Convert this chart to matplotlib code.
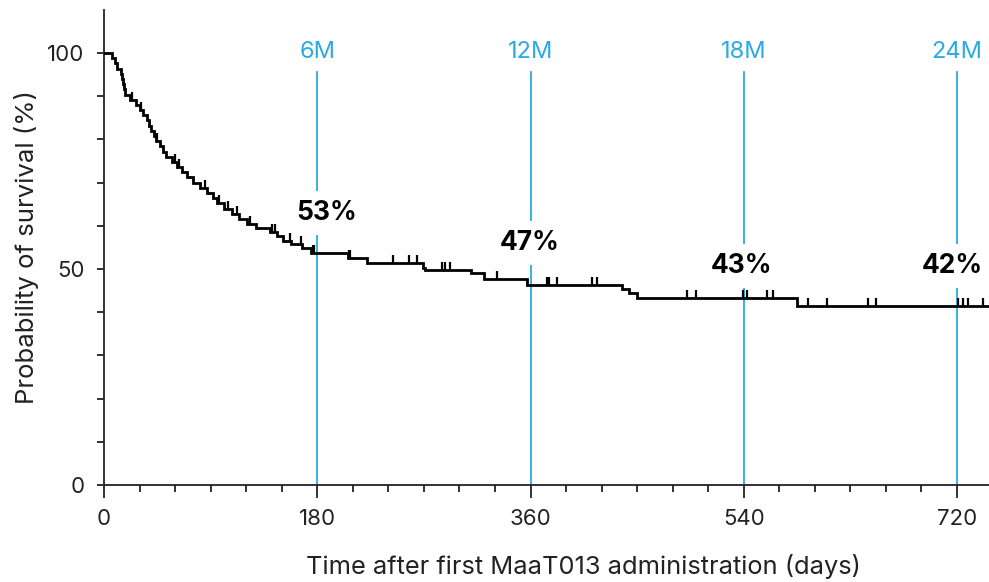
import numpy as np
import matplotlib
matplotlib.use("Agg")
import matplotlib.pyplot as plt
from matplotlib.ticker import FixedLocator

plt.rcParams['font.family'] = ['Inter', 'DejaVu Sans']

# Kaplan-Meier step curve (days, survival %)
km_times = [0, 7, 9, 11, 14, 15, 16, 17, 18, 22, 27, 30, 33, 36, 38, 40, 42, 44, 47,
            50, 52, 57, 62, 66, 70, 75, 81, 87, 92, 95, 101, 108, 114, 121, 128,
            140, 146, 151, 158, 167, 175, 206, 222, 269, 271, 310, 321, 357, 437,
            443, 450, 585]
km_surv = [100, 98.8, 97.6, 96.4, 95.2, 94.0, 92.8, 91.6, 90.4, 89.2, 88.0, 86.8,
           85.6, 84.4, 83.2, 82.0, 80.8, 79.6, 78.4, 77.2, 76.0, 74.8, 73.6, 72.4,
           71.2, 70.0, 68.8, 67.6, 66.4, 65.2, 64.0, 62.8, 61.6, 60.4, 59.5, 58.6,
           57.6, 56.6, 55.8, 54.8, 53.7, 52.6, 51.5, 50.3, 49.7, 49.0, 47.6, 46.4,
           45.4, 44.5, 43.2, 41.4]
censor_times = [24, 31, 45, 60, 63, 85, 97, 105, 112, 123, 142, 144, 157, 166, 176, 177,
                207, 208, 244, 257, 264, 285, 288, 292, 332, 374, 376, 382, 412, 416,
                492, 500, 539, 543, 560, 565, 594, 610, 645, 652, 721, 725, 729, 742]

months = ["6M", "12M", "18M", "24M"]
month_days = [180, 360, 540, 720]
pct_labels = ["53%", "47%", "43%", "42%"]
pct_x = [188, 359.5, 538, 716]
pct_y = [63, 56, 50.7, 50.7]

x_max = 747
blue = "#29ABE2"
dark = "#222222"

fig = plt.figure(figsize=(9.89, 5.82), dpi=100)
ax = fig.add_axes([0.1052, 0.1667, 0.8948, 0.8163])

t = np.array(km_times + [x_max], dtype=float)
s = np.array(km_surv + [km_surv[-1]], dtype=float)
ax.step(t, s, where='post', color='black', lw=2.0, zorder=4, solid_joinstyle='miter')

ct = np.array(censor_times, dtype=float)
idx = np.searchsorted(np.array(km_times, dtype=float), ct, side='right') - 1
cy = np.array(km_surv)[idx]
ax.plot(ct, cy, linestyle='none', marker=2, markersize=6, markeredgewidth=1.6,
        color='black', zorder=4)

for d, m in zip(month_days, months):
    ax.plot([d, d], [0, 95.6], color=blue, lw=1.3, zorder=2)
    ax.text(d, 100.2, m, color=blue, fontsize=17, ha='center', va='center', zorder=5)

for x, y, lab in zip(pct_x, pct_y, pct_labels):
    ax.text(x, y, lab, color='black', fontsize=19, fontweight='bold', ha='center',
            va='center', zorder=3,
            bbox=dict(boxstyle='square,pad=0.35', fc='white', ec='none'))

ax.set_xlim(0, x_max)
ax.set_ylim(0, 110)
ax.xaxis.set_major_locator(FixedLocator([0, 180, 360, 540, 720]))
ax.xaxis.set_minor_locator(FixedLocator([d for d in range(30, 750, 30) if d % 180 != 0]))
ax.yaxis.set_major_locator(FixedLocator([0, 50, 100]))
ax.yaxis.set_minor_locator(FixedLocator([10, 20, 30, 40, 60, 70, 80, 90]))

for sp in ['top', 'right']:
    ax.spines[sp].set_visible(False)
for sp in ['left', 'bottom']:
    ax.spines[sp].set_linewidth(1.3)
    ax.spines[sp].set_color(dark)

ax.tick_params(axis='x', which='major', length=9, width=1.3, pad=8, labelsize=16,
               colors=dark)
ax.tick_params(axis='x', which='minor', length=5, width=1.3, colors=dark)
ax.tick_params(axis='y', which='major', length=5, width=1.3, pad=9, labelsize=16,
               colors=dark)
ax.tick_params(axis='y', which='minor', length=5, width=1.3, colors=dark)

ax.set_xlabel("Time after first MaaT013 administration (days)", fontsize=18.3,
              color=dark)
ax.xaxis.set_label_coords(0.542, -0.145)
ax.set_ylabel("Probability of survival (%)", fontsize=18.5, color=dark, labelpad=6)

fig.savefig("out.png", dpi=100)
